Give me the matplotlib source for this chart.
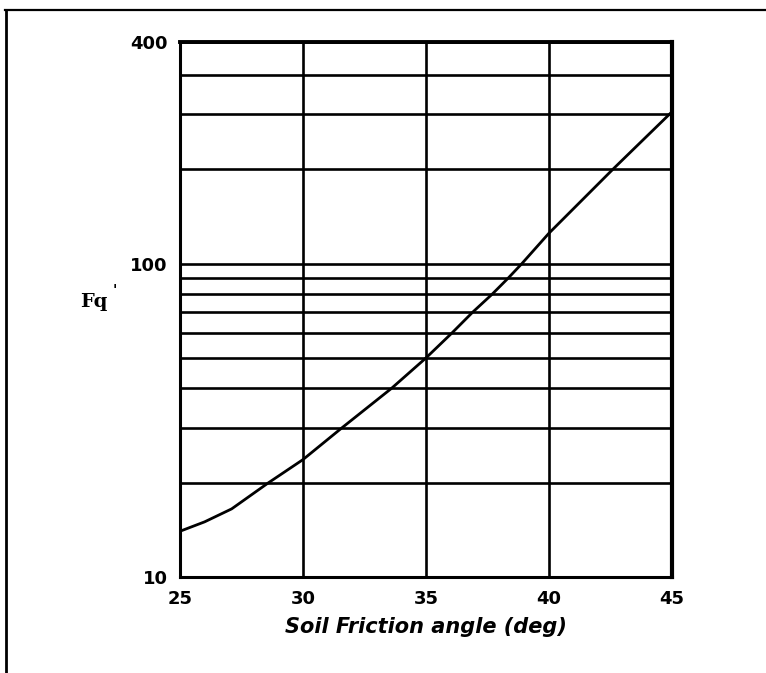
import numpy as np
import matplotlib
matplotlib.use("Agg")
import matplotlib.pyplot as plt
import matplotlib.ticker as mticker
from matplotlib.lines import Line2D

# values
angle = [25, 26, 27.1, 28.6, 30, 31.6, 33.6, 35, 36.05, 36.9, 37.7, 38.35, 38.9, 40, 42.6, 45]
fq = [14, 15.0, 16.5, 20, 23.7, 30, 40, 50, 60, 70, 80, 90, 100, 125, 200, 305]

x_ticks = [25, 30, 35, 40, 45]
y_ticks = [10, 100, 510]
y_tick_labels = ["10", "100", "400"]
y_minor = [20, 30, 40, 50, 60, 70, 80, 90, 200, 300, 400]

fig = plt.figure(figsize=(7.66, 6.73), dpi=100)
ax = fig.add_axes([0.235, 0.1426, 0.642, 0.795])

ax.plot(angle, fq, color="black", lw=2.0)

ax.set_yscale("log")
ax.set_xlim(25, 45)
ax.set_ylim(10, 510)
ax.set_xticks(x_ticks)
ax.set_yticks(y_ticks)
ax.set_yticklabels(y_tick_labels)
ax.yaxis.set_minor_locator(mticker.FixedLocator(y_minor))
ax.yaxis.set_minor_formatter(mticker.NullFormatter())
ax.tick_params(which="both", length=0)
ax.tick_params(axis="x", pad=9)
ax.tick_params(axis="y", pad=9)

for lbl in ax.get_xticklabels() + ax.get_yticklabels():
    lbl.set_fontsize(13)
    lbl.set_fontweight("bold")
    lbl.set_family("DejaVu Sans")

ax.grid(True, which="both", color="black", lw=1.9)

for side, w in [("left", 2.2), ("bottom", 2.2), ("right", 3.0), ("top", 2.8)]:
    ax.spines[side].set_linewidth(w)
    ax.spines[side].set_color("black")

ax.set_xlabel("Soil Friction angle (deg)", fontsize=15, fontweight="bold",
              fontstyle="italic", family="DejaVu Sans", labelpad=7)

fig.text(0.105, 0.551, "Fq", fontsize=14, fontweight="bold", family="DejaVu Serif",
         ha="left", va="center")
fig.text(0.147, 0.568, "'", fontsize=10, fontweight="bold", family="DejaVu Serif",
         ha="left", va="center")

# page frame of the scanned figure
fig.add_artist(Line2D([0.007, 1.0], [0.985, 0.985], color="black", lw=1.6))
fig.add_artist(Line2D([0.008, 0.008], [0.0, 0.985], color="black", lw=2.0))

fig.savefig("out.png", dpi=100)
